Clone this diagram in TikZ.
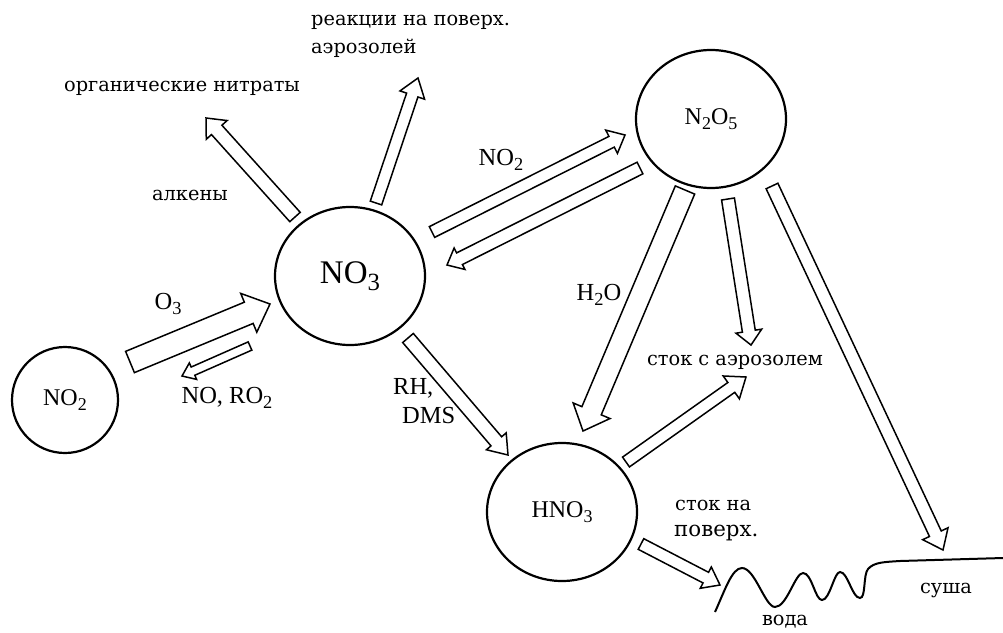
\documentclass[tikz,border=0pt]{standalone}
\usepackage{fontspec}
\setmainfont{Liberation Serif}
\newfontfamily\cyr{DejaVu Serif}[Scale=0.79]
\usetikzlibrary{calc,shapes.geometric}
\tikzset{
  species/.style={draw, ellipse, line width=2.2pt, inner sep=0pt, minimum width=150pt, minimum height=138pt, font=\fontsize{24}{28}\selectfont},
  lbl/.style={inner sep=0pt, font=\fontsize{24.5}{28}\selectfont},
  blockarrow/.style={draw, line width=1.5pt, fill=white, line join=miter}
}
% subscript as printed in the figure
\newcommand{\sub}[1]{\raisebox{-0.45ex}{\scalebox{0.75}{#1}}}
% hollow block arrow: tail, tip, shaft half width, head half width, head length
\newcommand{\blockarrow}[5]{%
  \coordinate (ba) at ($(#2)!#5!(#1)$);
  \draw[blockarrow] ($(#1)!#3!90:(#2)$) -- ($(ba)!#3!90:(#2)$) -- ($(ba)!#4!90:(#2)$) -- (#2)
    -- ($(ba)!#4!-90:(#2)$) -- ($(ba)!#3!-90:(#2)$) -- ($(#1)!#3!-90:(#2)$) -- cycle;
}

\begin{document}
\begin{tikzpicture}[x=1pt,y=-1pt]
\useasboundingbox (0,0) rectangle (1003,632);

% species
\node[species, minimum width=106pt, minimum height=106pt] (no2) at (65,400) {NO\sub{2}};
\node[species, font=\fontsize{33}{38}\selectfont] (no3) at (350,276) {NO\sub{3}};
\node[species] (n2o5) at (711,119) {N\sub{2}O\sub{5}};
\node[species] (hno3) at (562,512) {HNO\sub{3}};

% arrow ends
\coordinate (o3t) at (130,362);  \coordinate (o3h) at (270,304);
\coordinate (rot) at (250,346);  \coordinate (roh) at (182,376);
\coordinate (alt) at (295,217);  \coordinate (alh) at (206,118);
\coordinate (aet) at (376,203);  \coordinate (aeh) at (418,78);
\coordinate (nft) at (432,232);  \coordinate (nfh) at (625,135);
\coordinate (nbt) at (640,168);  \coordinate (nbh) at (447,265);
\coordinate (rht) at (408,338);  \coordinate (rhh) at (508,455);
\coordinate (wtt) at (685,190);  \coordinate (wth) at (583,431);
\coordinate (sat) at (728,199);  \coordinate (sah) at (751,345);
\coordinate (lnt) at (772,186);  \coordinate (lnh) at (943,550);
\coordinate (hat) at (626,462);  \coordinate (hah) at (746,377);
\coordinate (hst) at (641,544);  \coordinate (hsh) at (720,585);

\blockarrow{o3t}{o3h}{11.5pt}{21pt}{23pt} % NO2 -> NO3
\blockarrow{rot}{roh}{4.5pt}{9pt}{12pt}
\blockarrow{alt}{alh}{7pt}{14pt}{16pt} % alkenes
\blockarrow{aet}{aeh}{6pt}{13pt}{18pt}
\blockarrow{nft}{nfh}{6pt}{13pt}{15pt} % NO3 <-> N2O5
\blockarrow{nbt}{nbh}{6.5pt}{12pt}{14pt}
\blockarrow{rht}{rhh}{7pt}{13pt}{18pt} % RH, DMS
\blockarrow{wtt}{wth}{10.5pt}{20pt}{22pt} % H2O
\blockarrow{sat}{sah}{6.5pt}{13pt}{14pt}
\blockarrow{lnt}{lnh}{6.5pt}{14pt}{18pt} % to land
\blockarrow{hat}{hah}{6pt}{14pt}{18pt}
\blockarrow{hst}{hsh}{6pt}{12pt}{16pt} % to water

% surface
\draw[line width=2pt] (715,612) .. controls (725,590) and (732,568) .. (742,568)
  .. controls (755,568) and (765,607) .. (775,607) .. controls (787,607) and (795,573) .. (803,573)
  .. controls (812,573) and (815,600) .. (822,600) .. controls (830,600) and (834,572) .. (840,572)
  .. controls (848,572) and (852,598) .. (860,598) .. controls (866,598) and (863,575) .. (868,569)
  .. controls (874,562) and (885,562) .. (900,561) -- (1003,558);

%labels
\node[lbl, anchor=west, align=left] (lrx) at (311,36) {\cyr реакции на поверх.\\\cyr аэрозолей};
\node[lbl] (lorg) at (182,88) {\cyr органические нитраты};
\node[lbl] (lalk) at (190,195) {\cyr алкены};
\node[lbl] (lo3) at (168,304) {O\sub{3}};
\node[lbl] (lno) at (227,398) {NO, RO\sub{2}};
\node[lbl] (lno2) at (501,160) {NO\sub{2}};
\node[lbl] (lh2o) at (599,295) {H\sub{2}O};
\node[lbl] (lsa) at (735,362) {\cyr сток с аэрозолем};
\node[lbl, anchor=west] (lrh) at (393,388) {RH,};
\node[lbl, anchor=west] (ldms) at (402,416) {DMS};
\node[lbl, anchor=west] (lss) at (675,505) {\cyr сток на};
\node[lbl, anchor=west, font=\fontsize{27}{30}\selectfont] (lsp) at (674,533) {\cyr поверх.};
\node[lbl] (lw) at (785,622) {\cyr вода};
\node[lbl] (ll) at (946,590) {\cyr суша};

\end{tikzpicture}
\end{document}
